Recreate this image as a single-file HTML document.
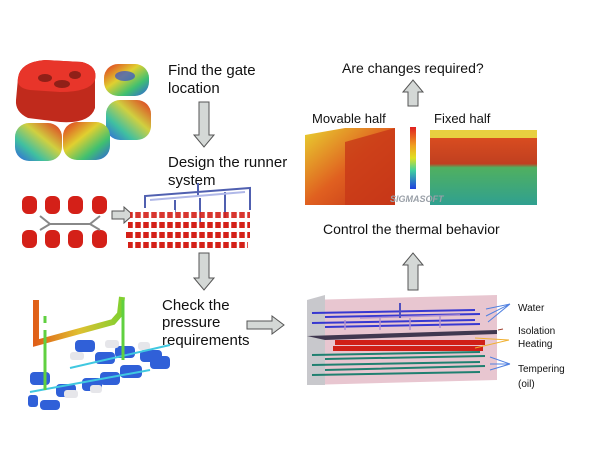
<!DOCTYPE html>
<html><head><style>
body{margin:0;background:#fff;}
svg{display:block;font-family:"Liberation Sans",sans-serif;}
</style></head><body>
<svg width="600" height="450" viewBox="0 0 600 450" xmlns="http://www.w3.org/2000/svg">
<defs>
<linearGradient id="rb" x1="0" y1="0" x2="1" y2="1"><stop offset="0" stop-color="#e03020"/><stop offset=".4" stop-color="#e0d030"/><stop offset=".7" stop-color="#40c070"/><stop offset="1" stop-color="#3060e0"/></linearGradient>
<linearGradient id="rb2" x1="1" y1="0" x2="0" y2="1"><stop offset="0" stop-color="#e03020"/><stop offset=".4" stop-color="#d0d040"/><stop offset=".7" stop-color="#40c0a0"/><stop offset="1" stop-color="#3060e0"/></linearGradient>
<linearGradient id="cb" x1="0" y1="0" x2="0" y2="1"><stop offset="0" stop-color="#e02020"/><stop offset=".3" stop-color="#f0a020"/><stop offset=".5" stop-color="#e0e020"/><stop offset=".7" stop-color="#40d0a0"/><stop offset="1" stop-color="#2040e0"/></linearGradient>
<linearGradient id="mv" x1="0" y1="0" x2="1" y2="1"><stop offset="0" stop-color="#e8d030"/><stop offset=".5" stop-color="#e06020"/><stop offset="1" stop-color="#c03018"/></linearGradient>
<linearGradient id="fx" x1="0" y1="0" x2="0" y2="1"><stop offset="0" stop-color="#e05020"/><stop offset=".45" stop-color="#c04020"/><stop offset=".5" stop-color="#50b060"/><stop offset="1" stop-color="#30a090"/></linearGradient>
<linearGradient id="pipe" x1="0" y1="0" x2="1" y2="0"><stop offset="0" stop-color="#e06018"/><stop offset=".5" stop-color="#e0c030"/><stop offset="1" stop-color="#80d030"/></linearGradient>
</defs>

<path d="M18,78 Q20,62 45,60 L82,62 Q98,66 95,80 L95,108 Q90,124 60,122 L28,118 Q15,112 16,100 Z" fill="#c02a1c"/>
<path d="M18,78 Q20,62 45,60 L82,62 Q98,66 95,80 Q90,92 60,92 L30,90 Q16,88 18,78Z" fill="#e8352a"/>
<ellipse cx="45" cy="78" rx="7" ry="4" fill="#902018"/><ellipse cx="75" cy="75" rx="6" ry="4" fill="#902018"/><ellipse cx="62" cy="84" rx="8" ry="4" fill="#902018"/>
<rect x="104" y="64" width="45" height="32" rx="14" fill="url(#rb)"/><ellipse cx="125" cy="76" rx="10" ry="5" fill="#3050d0" opacity=".7"/>
<rect x="106" y="100" width="45" height="40" rx="14" fill="url(#rb2)"/>
<rect x="15" y="123" width="47" height="38" rx="14" fill="url(#rb2)"/>
<rect x="63" y="122" width="47" height="38" rx="14" fill="url(#rb)"/>

<text x="168" y="75" font-size="15" fill="#111">Find the gate</text>
<text x="168" y="93" font-size="15" fill="#111">location</text>
<polygon points="199,102 209,102 209,135 214,135 204,147 194,135 199,135" fill="#d4d8d6" stroke="#555"/>
<text x="168" y="167" font-size="15" fill="#111">Design the runner</text>
<text x="168" y="185" font-size="15" fill="#111">system</text>

<g fill="#d42018">
<rect x="22" y="196" width="15" height="18" rx="6"/><rect x="45" y="196" width="15" height="18" rx="6"/><rect x="68" y="196" width="15" height="18" rx="6"/><rect x="92" y="196" width="15" height="18" rx="6"/>
<rect x="22" y="230" width="15" height="18" rx="6"/><rect x="45" y="230" width="15" height="18" rx="6"/><rect x="68" y="230" width="15" height="18" rx="6"/><rect x="92" y="230" width="15" height="18" rx="6"/>
</g>
<path d="M40,216 L50,224 L90,224 L100,216 M40,230 L50,224 M90,224 L100,230" stroke="#888" stroke-width="2" fill="none"/>
<polygon points="112,211 124,211 124,207 133,215 124,223 124,219 112,219" fill="#d4d8d6" stroke="#555"/>
<path d="M145,208 L145,196 L250,188 L250,210 M175,215 L175,200 M200,198 L200,222 M225,192 L225,218 M198,183 L198,196" stroke="#5060b0" stroke-width="2" fill="none"/>
<path d="M150,200 L245,192" stroke="#b0b8e8" stroke-width="2"/>
<g fill="#d42018">
<rect x="130" y="212" width="120" height="6" opacity=".9"/>
<rect x="128" y="222" width="122" height="6"/>
<rect x="126" y="232" width="124" height="6"/>
<rect x="128" y="242" width="120" height="6"/>
</g>
<g stroke="#fff" stroke-width="2.5"><path d="M134,210 V250 M142,210 V250 M150,210 V250 M158,210 V250 M166,210 V250 M174,210 V250 M182,210 V250 M190,210 V250 M198,210 V250 M206,210 V250 M214,210 V250 M222,210 V250 M230,210 V250 M238,210 V250 M246,210 V250"/></g>

<polygon points="199,253 209,253 209,278 214,278 204,290 194,278 199,278" fill="#d4d8d6" stroke="#555"/>
<text x="162" y="310" font-size="15" fill="#111">Check the</text>
<text x="162" y="327" font-size="15" fill="#111">pressure</text>
<text x="162" y="345" font-size="15" fill="#111">requirements</text>
<polygon points="247,321 272,321 272,316 284,325 272,334 272,329 247,329" fill="#d4d8d6" stroke="#555"/>

<g fill="#3060d8">
<rect x="75" y="340" width="20" height="12" rx="4"/><rect x="95" y="352" width="20" height="12" rx="4"/><rect x="115" y="346" width="20" height="12" rx="4"/><rect x="140" y="350" width="22" height="12" rx="4"/>
<rect x="30" y="372" width="20" height="13" rx="4"/><rect x="56" y="384" width="20" height="13" rx="4"/><rect x="82" y="378" width="20" height="13" rx="4"/><rect x="100" y="372" width="20" height="13" rx="4"/><rect x="120" y="365" width="22" height="13" rx="4"/><rect x="150" y="356" width="20" height="13" rx="4"/>
<rect x="40" y="400" width="20" height="10" rx="4"/><rect x="28" y="395" width="10" height="12" rx="3"/>
</g>
<g fill="#e6e6ea"><rect x="70" y="352" width="14" height="8" rx="3"/><rect x="105" y="340" width="14" height="8" rx="3"/><rect x="138" y="342" width="12" height="8" rx="3"/><rect x="64" y="390" width="14" height="8" rx="3"/><rect x="90" y="385" width="12" height="8" rx="3"/></g>
<path d="M30,392 L150,370 M70,368 L170,345" stroke="#40c8e0" stroke-width="2"/>
<path d="M36,300 L36,343 L113,322 L120,314 L122,297" stroke="url(#pipe)" stroke-width="6" fill="none"/>
<path d="M45,330 L45,390 M123,300 L123,360 M45,323 L45,316" stroke="#60d040" stroke-width="3" fill="none"/>

<polygon points="307,300 497,295 497,380 307,385" fill="#e8c6d0"/>
<polygon points="307,300 325,295 325,385 307,385" fill="#c8c8cc"/>
<g stroke="#3838d0" stroke-width="2"><path d="M312,313 L475,310 M325,317 L480,314 M312,323 L475,320 M325,327 L480,324"/></g>
<path d="M345,320 V330 M380,318 V330 M410,318 V330 M440,316 V328 M360,318 L460,315" stroke="#b090d0" stroke-width="1.5"/>
<line x1="400" y1="303" x2="400" y2="318" stroke="#5050c0" stroke-width="2"/>
<polygon points="307,336 497,330 497,334 325,340" fill="#403850"/>
<g fill="#d02018"><rect x="335" y="340" width="150" height="5"/><rect x="333" y="346" width="150" height="5"/></g>
<g stroke="#208070" stroke-width="2"><path d="M312,355 L480,352 M325,359 L485,356 M312,365 L480,362 M325,370 L485,366 M312,375 L480,372"/></g>
<g stroke="#5080e0" stroke-width="1" fill="none"><path d="M510,304 L486,309 M510,304 L486,316 M510,304 L488,322 M510,364 L490,357 M510,364 L490,364 M510,364 L490,370"/></g>
<path d="M503,329 L498,330" stroke="#a04030"/>
<path d="M509,340 L475,338 M509,340 L475,348" stroke="#f0b030"/>
<text x="518" y="311" font-size="10" fill="#111">Water</text>
<text x="518" y="334" font-size="10" fill="#111">Isolation</text>
<text x="518" y="347" font-size="10" fill="#111">Heating</text>
<text x="518" y="372" font-size="10" fill="#111">Tempering</text>
<text x="518" y="387" font-size="10" fill="#111">(oil)</text>

<polygon points="408,290 418,290 418,265 423,265 413,253 403,265 408,265" fill="#d4d8d6" stroke="#555"/>
<text x="323" y="234" font-size="14" fill="#111">Control the thermal behavior</text>

<polygon points="305,135 345,128 395,128 395,205 305,205" fill="url(#mv)"/>
<polygon points="345,142 395,128 395,205 345,205" fill="#c83818" opacity=".8"/>
<polygon points="430,130 537,130 537,205 430,205" fill="url(#fx)"/>
<rect x="430" y="130" width="107" height="8" fill="#e8d040"/>
<rect x="410" y="127" width="6" height="62" fill="url(#cb)"/>
<text x="390" y="202" font-size="9" font-weight="bold" fill="#9aa0a8" font-style="italic">SIGMASOFT</text>
<text x="312" y="123" font-size="13" fill="#111">Movable half</text>
<text x="434" y="123" font-size="13" fill="#111">Fixed half</text>
<polygon points="408,106 418,106 418,92 423,92 413,80 403,92 408,92" fill="#d4d8d6" stroke="#555"/>
<text x="342" y="73" font-size="14" fill="#111">Are changes required?</text>
</svg>
</body></html>
